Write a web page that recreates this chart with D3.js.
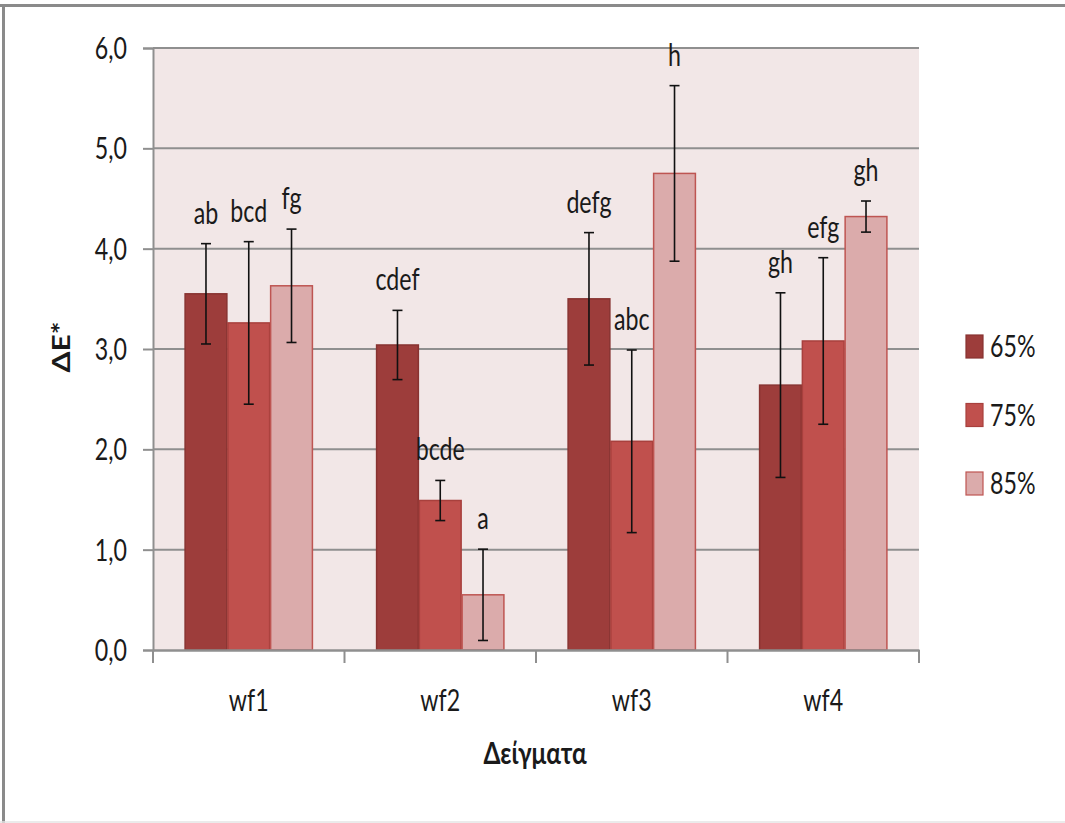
<!DOCTYPE html>
<html>
<head>
<meta charset="utf-8">
<script src="https://cdn.jsdelivr.net/npm/d3@7"></script>
<style>
  html, body { margin: 0; padding: 0; background: #fff; }
  svg { display: block; }
  text { font-family: Lato, "Open Sans", "Noto Sans", sans-serif; fill: #1a1a1a; }
</style>
</head>
<body>
<svg id="chart" width="1065" height="823"></svg>
<script>
// Samples and moisture levels
const categories = ["wf1", "wf2", "wf3", "wf4"];
const seriesNames = ["65%", "75%", "85%"];

// Mean ΔE* per sample, one array per series
const values65 = [3.55, 3.04, 3.50, 2.64];
const values75 = [3.26, 1.49, 2.08, 3.08];
const values85 = [3.63, 0.55, 4.75, 4.32];

// Half-width of the error bars
const err65 = [0.50, 0.345, 0.66, 0.92];
const err75 = [0.81, 0.20, 0.91, 0.83];
const err85 = [0.565, 0.455, 0.875, 0.155];

// Significance letters
const letters65 = ["ab", "cdef", "defg", "gh"];
const letters75 = ["bcd", "bcde", "abc", "efg"];
const letters85 = ["fg", "a", "h", "gh"];

const yTicks = [0, 1, 2, 3, 4, 5, 6];

const series = [
  { name: seriesNames[0], values: values65, errs: err65, letters: letters65, fill: "#9D3D3B", stroke: "#883331" },
  { name: seriesNames[1], values: values75, errs: err75, letters: letters75, fill: "#C0504D", stroke: "#A8403D" },
  { name: seriesNames[2], values: values85, errs: err85, letters: letters85, fill: "#DBABAB", stroke: "#BE5552" }
];

const svg = d3.select("#chart");
const plot = { left: 153, right: 919, top: 48, bottom: 650 };
const SX = 0.8; // horizontal squeeze for the narrow face

// Helper: text squeezed horizontally around its anchor
function ntext(g, x, y, str, opts = {}) {
  const t = g.append("text")
    .attr("transform", `translate(${x},${y}) scale(${opts.sx ?? SX},1.04)`)
    .attr("text-anchor", opts.anchor || "middle")
    .style("font-size", (opts.size || 29) + "px")
    .text(str);
  if (opts.bold) t.style("font-weight", "bold");
  return t;
}

// Outer frame: dark top and left edges, faint bottom edge
svg.append("line").attr("x1", 0).attr("x2", 1065).attr("y1", 5.5).attr("y2", 5.5)
  .attr("stroke", "#8a8a8a").attr("stroke-width", 3);
svg.append("line").attr("x1", 3.5).attr("x2", 3.5).attr("y1", 4).attr("y2", 823)
  .attr("stroke", "#8a8a8a").attr("stroke-width", 3);
svg.append("line").attr("x1", 0).attr("x2", 1065).attr("y1", 822).attr("y2", 822)
  .attr("stroke", "#e4e4e4").attr("stroke-width", 1.5);

const x0 = d3.scaleBand().domain(categories).range([plot.left, plot.right]).paddingInner(0).paddingOuter(0);
const gap = x0.bandwidth() * 0.165;
const x1 = d3.scaleBand().domain(seriesNames).range([gap, x0.bandwidth() - gap]).padding(0);
const y = d3.scaleLinear().domain([0, 6]).range([plot.bottom, plot.top]);

// Plot background
svg.append("rect")
  .attr("x", plot.left).attr("y", plot.top)
  .attr("width", plot.right - plot.left).attr("height", plot.bottom - plot.top)
  .attr("fill", "#F2E7E7");

// Gridlines
svg.append("g").selectAll("line").data(yTicks.filter(d => d > 0)).join("line")
  .attr("x1", plot.left).attr("x2", plot.right)
  .attr("y1", d => y(d)).attr("y2", d => y(d))
  .attr("stroke", "#8f8f8f").attr("stroke-width", 2);

// Y axis
const yAxis = svg.append("g").attr("transform", `translate(${plot.left},0)`)
  .call(d3.axisLeft(y).tickValues(yTicks).tickSize(10).tickFormat(() => ""));
yAxis.select(".domain").attr("stroke", "#8f8f8f").attr("stroke-width", 2);
yAxis.selectAll(".tick line").attr("stroke", "#8f8f8f").attr("stroke-width", 2);
const yLabelG = svg.append("g");
yTicks.forEach(t => {
  ntext(yLabelG, 127, y(t) + 11, d3.format(".1f")(t).replace(".", ","), { anchor: "end" });
});

// Bars
const groups = svg.append("g").selectAll("g").data(categories).join("g")
  .attr("transform", d => `translate(${x0(d)},0)`);

series.forEach(s => {
  groups.append("rect")
    .attr("x", (d, i) => x1(s.name) + 0.5)
    .attr("y", (d, i) => y(s.values[i]))
    .attr("width", x1.bandwidth() - 1)
    .attr("height", (d, i) => y(0) - y(s.values[i]))
    .attr("fill", s.fill)
    .attr("stroke", s.stroke).attr("stroke-width", 1.5);
});

// X axis
const xAxis = svg.append("g").attr("transform", `translate(0,${plot.bottom})`)
  .call(d3.axisBottom(x0).tickSize(0).tickFormat(() => ""));
xAxis.select(".domain").attr("stroke", "#8f8f8f").attr("stroke-width", 2.5);
const bounds = categories.map(c => x0(c)).concat([plot.right]);
svg.append("g").selectAll("line").data(bounds).join("line")
  .attr("x1", d => d).attr("x2", d => d)
  .attr("y1", plot.bottom).attr("y2", plot.bottom + 13)
  .attr("stroke", "#8f8f8f").attr("stroke-width", 2);
const xLabelG = svg.append("g");
categories.forEach(c => ntext(xLabelG, x0(c) + x0.bandwidth() / 2, 711, c));

// Error bars and letters
series.forEach(s => {
  const eg = groups.append("g");
  const cx = x1(s.name) + x1.bandwidth() / 2;
  eg.append("line")
    .attr("x1", cx).attr("x2", cx)
    .attr("y1", (d, i) => y(s.values[i] + s.errs[i]))
    .attr("y2", (d, i) => y(s.values[i] - s.errs[i]))
    .attr("stroke", "#111").attr("stroke-width", 1.6);
  [1, -1].forEach(sign => {
    eg.append("line")
      .attr("x1", cx - 5).attr("x2", cx + 5)
      .attr("y1", (d, i) => y(s.values[i] + sign * s.errs[i]))
      .attr("y2", (d, i) => y(s.values[i] + sign * s.errs[i]))
      .attr("stroke", "#111").attr("stroke-width", 1.6);
  });
  eg.each(function (d, i) {
    ntext(d3.select(this), cx, y(s.values[i] + s.errs[i]) - 20, s.letters[i]);
  });
});

// Legend
const legend = svg.append("g");
series.forEach((s, i) => {
  const ly = 335 + i * 68.5;
  legend.append("rect").attr("x", 966).attr("y", ly).attr("width", 17).attr("height", 23)
    .attr("fill", s.fill).attr("stroke", s.stroke).attr("stroke-width", 1.2);
  ntext(legend, 990, ly + 22, s.name, { anchor: "start" });
});

// Axis titles
ntext(svg, (plot.left + plot.right) / 2 - 1, 764, "Δείγματα", { size: 29, bold: true, sx: 0.84 });
svg.append("text")
  .attr("transform", `translate(70,347) rotate(-90) scale(1.2,1)`)
  .attr("text-anchor", "middle")
  .style("font-size", "25px").style("font-weight", "bold")
  .text("ΔE*");
</script>
</body>
</html>
